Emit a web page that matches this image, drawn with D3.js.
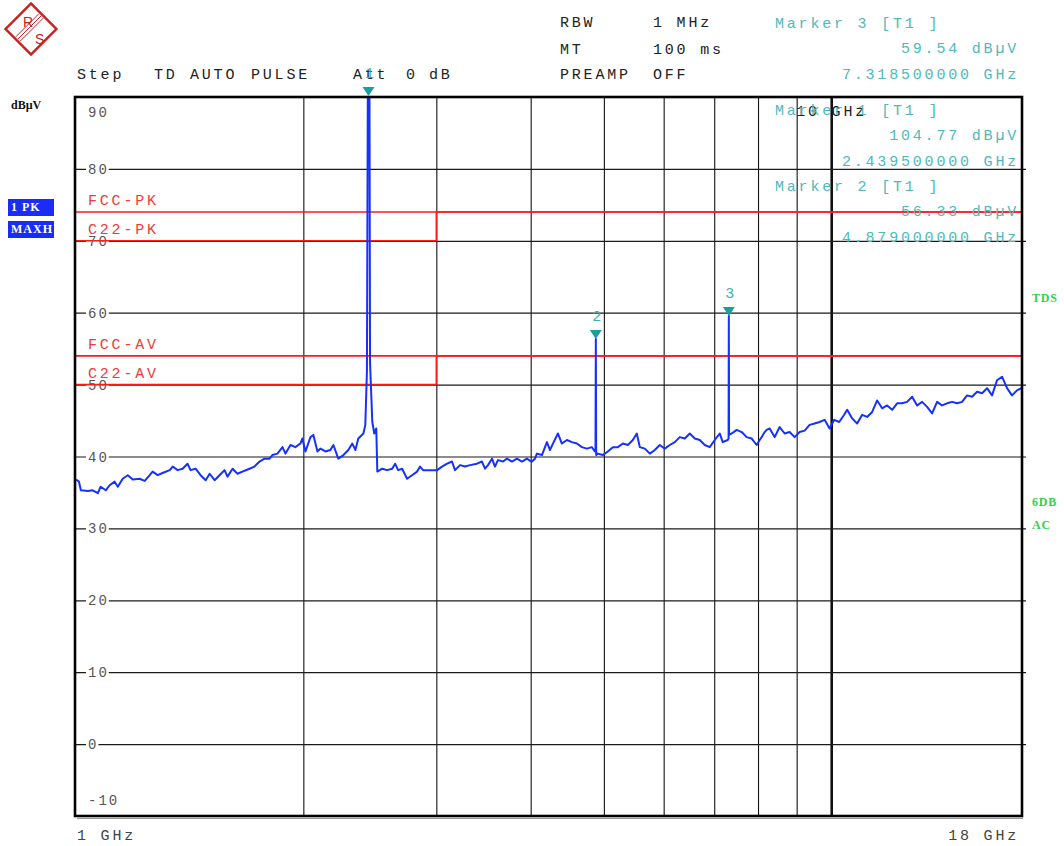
<!DOCTYPE html>
<html>
<head>
<meta charset="utf-8">
<script src="https://cdn.jsdelivr.net/npm/d3@7"></script>
<style>
  html, body { margin: 0; padding: 0; background: #fff; }
  #chart { width: 1064px; height: 846px; }
  text { font-family: "Liberation Mono", monospace; }
</style>
</head>
<body>
<div id="chart"></div>
<script>
// Spectrum trace: frequency (GHz) and level (dBuV)
const traceFreq = [
  1.000, 1.009, 1.015, 1.037, 1.052, 1.069, 1.078, 1.095, 1.108, 1.125, 1.136, 1.153, 1.171, 1.189, 1.214,
  1.233, 1.252, 1.263, 1.283, 1.302, 1.331, 1.343, 1.363, 1.384, 1.405, 1.418, 1.440, 1.462, 1.485, 1.503,
  1.526, 1.549, 1.573, 1.587, 1.612, 1.636, 1.661, 1.697, 1.723, 1.750, 1.777, 1.804, 1.820, 1.848, 1.877,
  1.894, 1.923, 1.952, 1.982, 1.994, 2.013, 2.044, 2.062, 2.088, 2.107, 2.139, 2.172, 2.192, 2.225, 2.260,
  2.294, 2.322, 2.344, 2.365, 2.402, 2.416, 2.428, 2.436, 2.4395, 2.446, 2.451, 2.468, 2.483, 2.498, 2.506,
  2.544, 2.582, 2.622, 2.646, 2.670, 2.703, 2.744, 2.786, 2.829, 2.855, 2.881, 2.943, 3.007, 3.053, 3.100,
  3.147, 3.176, 3.225, 3.274, 3.325, 3.396, 3.448, 3.480, 3.512, 3.555, 3.587, 3.620, 3.676, 3.721, 3.778,
  3.836, 3.895, 3.955, 3.991, 4.015, 4.052, 4.077, 4.140, 4.203, 4.242, 4.281, 4.346, 4.399, 4.467, 4.536,
  4.605, 4.676, 4.748, 4.820, 4.865, 4.874, 4.879, 4.884, 4.909, 4.985, 5.061, 5.139, 5.218, 5.298, 5.379,
  5.462, 5.528, 5.579, 5.665, 5.752, 5.840, 5.929, 6.020, 6.113, 6.207, 6.302, 6.399, 6.497, 6.597, 6.698,
  6.801, 6.905, 7.011, 7.119, 7.184, 7.294, 7.313, 7.3185, 7.324, 7.383, 7.497, 7.612, 7.728, 7.847, 7.967,
  8.040, 8.090, 8.164, 8.213, 8.289, 8.416, 8.545, 8.676, 8.809, 8.945, 9.082, 9.221, 9.363, 9.507, 9.652,
  9.801, 9.951, 10.092, 10.246, 10.403, 10.499, 10.660, 10.823, 10.990, 11.158, 11.330, 11.503, 11.680, 11.859, 12.041,
  12.226, 12.414, 12.604, 12.798, 12.994, 13.194, 13.396, 13.602, 13.810, 14.022, 14.237, 14.456, 14.678, 14.903, 15.131,
  15.364, 15.600, 15.839, 16.082, 16.329, 16.579, 16.834, 17.092, 17.354, 17.620, 18.000
];
const traceLevel = [
  36.8, 36.5, 35.3, 35.2, 35.3, 34.9, 35.8, 35.3, 36.0, 36.5, 35.8, 36.9, 37.4, 36.8, 36.9,
  36.6, 37.4, 37.9, 37.4, 37.7, 38.1, 38.6, 38.1, 38.3, 39.0, 38.1, 38.3, 37.4, 36.7, 37.6,
  36.7, 37.4, 38.1, 37.2, 38.3, 37.6, 37.9, 38.3, 38.6, 39.3, 39.7, 39.7, 40.2, 40.4, 41.3,
  40.4, 41.6, 41.3, 41.8, 42.5, 40.7, 42.7, 43.0, 40.7, 41.1, 40.7, 40.9, 41.6, 39.7, 40.2,
  40.9, 41.8, 40.9, 42.5, 43.2, 44.4, 52.0, 100.0, 104.77, 98.0, 53.0, 44.8, 43.2, 43.9, 37.9,
  38.3, 38.1, 38.3, 39.0, 38.1, 38.3, 36.9, 37.4, 37.9, 38.6, 38.1, 38.1, 38.1, 38.6, 39.0,
  39.3, 38.1, 38.8, 38.6, 38.8, 39.0, 39.3, 38.3, 38.8, 39.7, 38.6, 39.5, 39.3, 39.7, 39.3,
  39.7, 39.3, 39.7, 39.4, 39.3, 39.7, 40.4, 40.2, 42.0, 40.9, 41.8, 43.2, 41.8, 42.3, 42.0,
  41.8, 41.3, 41.1, 41.3, 40.7, 41.0, 56.33, 40.2, 40.4, 40.2, 40.7, 41.3, 41.3, 41.8, 41.6,
  42.3, 43.2, 41.3, 41.1, 40.4, 40.9, 41.6, 41.1, 41.6, 42.0, 42.7, 42.5, 43.2, 42.5, 42.3,
  41.6, 41.3, 42.3, 43.2, 42.0, 42.3, 42.5, 59.54, 43.0, 43.2, 43.7, 43.4, 42.7, 42.5, 41.6,
  42.3, 42.7, 43.4, 43.7, 43.9, 42.7, 44.1, 43.2, 43.4, 42.7, 43.4, 43.6, 44.4, 44.6, 44.8,
  45.1, 43.9, 45.1, 44.8, 45.8, 46.5, 45.3, 44.6, 45.8, 45.5, 46.2, 47.8, 46.7, 47.1, 46.5,
  47.4, 47.4, 47.6, 48.3, 47.1, 47.6, 46.9, 46.0, 47.6, 47.1, 47.4, 47.6, 47.4, 47.6, 48.5,
  48.3, 49.0, 48.8, 49.5, 48.5, 50.6, 51.1, 49.5, 48.5, 49.2, 49.7
];

// Limit lines (step at 3 GHz for the C22 lines)
const fccPkFreq = [1, 18], fccPkLevel = [74, 74];
const c22PkFreq = [1, 3, 3, 18], c22PkLevel = [70, 70, 74, 74];
const fccAvFreq = [1, 18], fccAvLevel = [54, 54];
const c22AvFreq = [1, 3, 3, 18], c22AvLevel = [50, 50, 54, 54];
const limitNames = ["FCC-PK", "C22-PK", "FCC-AV", "C22-AV"];

// Markers
const markerIds = ["1", "2", "3"];
const markerFreq = [2.4395, 4.879, 7.3185];
const markerLevel = [104.77, 56.33, 59.54];
const markerFreqText = ["2.439500000 GHz", "4.879000000 GHz", "7.318500000 GHz"];

// Axes
const gridFreqs = [2, 3, 4, 5, 6, 7, 8, 9, 10];
const gridLevels = [0, 10, 20, 30, 40, 50, 60, 70, 80];
const levelLabels = [90, 80, 70, 60, 50, 40, 30, 20, 10, 0, -10];

const width = 1064, height = 846;
const plot = { left: 75, right: 1022, top: 97, bottom: 816 };

const x = d3.scaleLog().domain([1, 18]).range([76, 1024]);
const y = d3.scaleLinear().domain([-10, 90]).range([plot.bottom, plot.top]);

const svg = d3.create("svg")
  .attr("width", width)
  .attr("height", height)
  .attr("viewBox", [0, 0, width, height]);

svg.append("rect").attr("width", width).attr("height", height).attr("fill", "#fff");

svg.append("defs").append("clipPath").attr("id", "plot-clip")
  .append("rect")
  .attr("x", plot.left).attr("y", plot.top)
  .attr("width", plot.right - plot.left).attr("height", plot.bottom - plot.top);

// R&S logo
const logo = svg.append("g").attr("transform", "translate(31,29)");
logo.append("rect")
  .attr("x", -18).attr("y", -18).attr("width", 36).attr("height", 36)
  .attr("transform", "rotate(45)")
  .attr("fill", "#fff").attr("stroke", "#cc2020").attr("stroke-width", 2.4);
[-2.2, 0, 2.2].forEach((o) => {
  logo.append("line")
    .attr("x1", 10 + o).attr("y1", -13 + o).attr("x2", -13 + o).attr("y2", 10 + o)
    .attr("stroke", "#cc2020").attr("stroke-width", 1);
});
logo.append("text").attr("x", -8).attr("y", -2).attr("fill", "#cc2020")
  .style("font-family", "Liberation Sans").style("font-size", "14px").text("R");
logo.append("text").attr("x", 4).attr("y", 15).attr("fill", "#cc2020")
  .style("font-family", "Liberation Sans").style("font-size", "14px").text("S");

// Header texts
const header = svg.append("g")
  .style("font-size", "15px").style("letter-spacing", "2.8px").attr("fill", "#222");
[
  ["RBW", 560, 27], ["1 MHz", 653, 27],
  ["MT", 560, 54], ["100 ms", 653, 54],
  ["PREAMP", 560, 79], ["OFF", 653, 79],
  ["Step", 77, 79], ["TD", 154, 79], ["AUTO", 190, 79], ["PULSE", 251, 79],
  ["Att", 353, 79], ["0", 406, 79], ["dB", 429, 79]
].forEach(([t, tx, ty]) => header.append("text").attr("x", tx).attr("y", ty).text(t));

// Vertical grid (frequency)
svg.append("g")
  .attr("transform", `translate(0,${plot.bottom})`)
  .call(d3.axisBottom(x).tickValues(gridFreqs).tickSize(-(plot.bottom - plot.top)).tickFormat(""))
  .call((g) => g.select(".domain").remove())
  .call((g) => g.selectAll(".tick line")
    .attr("stroke", "#111")
    .attr("stroke-width", (d) => (d === 10 ? 2.6 : 1.1)));

// Horizontal grid (level)
svg.append("g")
  .attr("transform", `translate(${plot.left},0)`)
  .call(d3.axisRight(y).tickValues(gridLevels).tickSize(plot.right - plot.left + 4).tickFormat(""))
  .call((g) => g.select(".domain").remove())
  .call((g) => g.selectAll(".tick line").attr("stroke", "#1a1a1a").attr("stroke-width", 1.2));

// Level labels on the grid
const lvl = svg.append("g").style("font-size", "14px").style("letter-spacing", "2px");
levelLabels.forEach((v) => {
  const s = String(v);
  let ty = y(v) + 5;
  if (v === 90) ty = y(90) + 20;
  if (v === -10) ty = y(-10) - 11;
  if (gridLevels.includes(v)) {
    lvl.append("rect")
      .attr("x", 86).attr("y", y(v) - 3)
      .attr("width", s.length * 10.4 + 2).attr("height", 6).attr("fill", "#fff");
  }
  lvl.append("text").attr("x", 88).attr("y", ty).attr("fill", "#555").text(s);
});

// 10 GHz label
svg.append("text")
  .attr("x", x(10) - 35).attr("y", 116)
  .style("font-size", "15px").style("letter-spacing", "2.8px").attr("fill", "#222")
  .text("10 GHz");

// Limit lines
const limitLine = d3.line().x((d) => x(d[0])).y((d) => y(d[1]));
const limits = [
  d3.zip(fccPkFreq, fccPkLevel), d3.zip(c22PkFreq, c22PkLevel),
  d3.zip(fccAvFreq, fccAvLevel), d3.zip(c22AvFreq, c22AvLevel)
];
svg.append("g")
  .attr("clip-path", "url(#plot-clip)")
  .attr("fill", "none").attr("stroke", "#ff1a1a").attr("stroke-width", 1.6)
  .selectAll("path").data(limits).join("path")
  .attr("d", limitLine);
svg.append("g")
  .style("font-size", "15px").style("letter-spacing", "2.8px").attr("fill", "#f03a3a")
  .selectAll("text").data(limits).join("text")
  .attr("x", 88).attr("y", (d) => y(d[0][1]) - 7)
  .text((d, i) => limitNames[i]);

// Trace
const traceLine = d3.line().x((d) => x(d[0])).y((d) => y(d[1]));
svg.append("path")
  .datum(d3.zip(traceFreq, traceLevel))
  .attr("clip-path", "url(#plot-clip)")
  .attr("fill", "none")
  .attr("stroke", "#1530ff")
  .attr("stroke-width", 2)
  .attr("stroke-linejoin", "round")
  .attr("d", traceLine);

// Frame
svg.append("rect")
  .attr("x", plot.left).attr("y", plot.top)
  .attr("width", plot.right - plot.left).attr("height", plot.bottom - plot.top)
  .attr("fill", "none").attr("stroke", "#000").attr("stroke-width", 2.6);
svg.append("line")
  .attr("x1", plot.left + 2).attr("x2", plot.right + 1)
  .attr("y1", plot.bottom + 2.5).attr("y2", plot.bottom + 2.5)
  .attr("stroke", "#999").attr("stroke-width", 1.2);

// Marker triangles and numbers
const markers = svg.append("g");
markerIds.forEach((id, i) => {
  const mx = x(markerFreq[i]);
  const my = Math.max(y(markerLevel[i]), plot.top - 1);
  markers.append("path")
    .attr("d", `M${mx - 6},${my - 9}L${mx + 6},${my - 9}L${mx},${my}Z`)
    .attr("fill", "#1c9c9c");
  markers.append("text")
    .attr("x", mx + 1).attr("y", my - 18)
    .attr("text-anchor", "middle")
    .style("font-size", "15px").attr("fill", "#3fb0b0")
    .text(id);
});

// Marker readouts (Marker 3 on top, then 1, then 2)
const readout = svg.append("g")
  .style("font-size", "15px").style("letter-spacing", "2.8px").attr("fill", "#4dbaba");
const readoutOrder = [2, 0, 1];
const readoutTop = [28, 115, 191];
readoutOrder.forEach((m, k) => {
  const base = readoutTop[k];
  readout.append("text").attr("x", 775).attr("y", base)
    .text(`Marker ${markerIds[m]} [T1 ]`);
  readout.append("text").attr("x", 1019).attr("y", base + 25).attr("text-anchor", "end")
    .text(`${markerLevel[m].toFixed(2)} dBµV`);
  readout.append("text").attr("x", 1019).attr("y", base + 51).attr("text-anchor", "end")
    .text(markerFreqText[m]);
});

// Left side labels
svg.append("text").attr("x", 11).attr("y", 109)
  .style("font-family", "Liberation Serif").style("font-weight", "bold").style("font-size", "12px")
  .attr("fill", "#111").text("dBµV");
[["1 PK", 199], ["MAXH", 221]].forEach(([t, by]) => {
  svg.append("rect").attr("x", 8).attr("y", by).attr("width", 46).attr("height", 17).attr("fill", "#1a2cf5");
  svg.append("text").attr("x", 11).attr("y", by + 12)
    .style("font-family", "Liberation Serif").style("font-weight", "bold").style("font-size", "12px")
    .style("letter-spacing", "1px").attr("fill", "#fff").text(t);
});

// Right side labels
[["TDS", 302], ["6DB", 506], ["AC", 529]].forEach(([t, ty]) => {
  svg.append("text").attr("x", 1032).attr("y", ty)
    .style("font-family", "Liberation Serif").style("font-weight", "bold").style("font-size", "12px")
    .style("letter-spacing", "0.8px").attr("fill", "#2fd24a").text(t);
});

// Frequency span labels
const span = svg.append("g").style("font-size", "15px").style("letter-spacing", "2.8px").attr("fill", "#444");
span.append("text").attr("x", 77).attr("y", 840).text("1 GHz");
span.append("text").attr("x", 1019).attr("y", 840).attr("text-anchor", "end").text("18 GHz");

document.getElementById("chart").appendChild(svg.node());
</script>
</body>
</html>
